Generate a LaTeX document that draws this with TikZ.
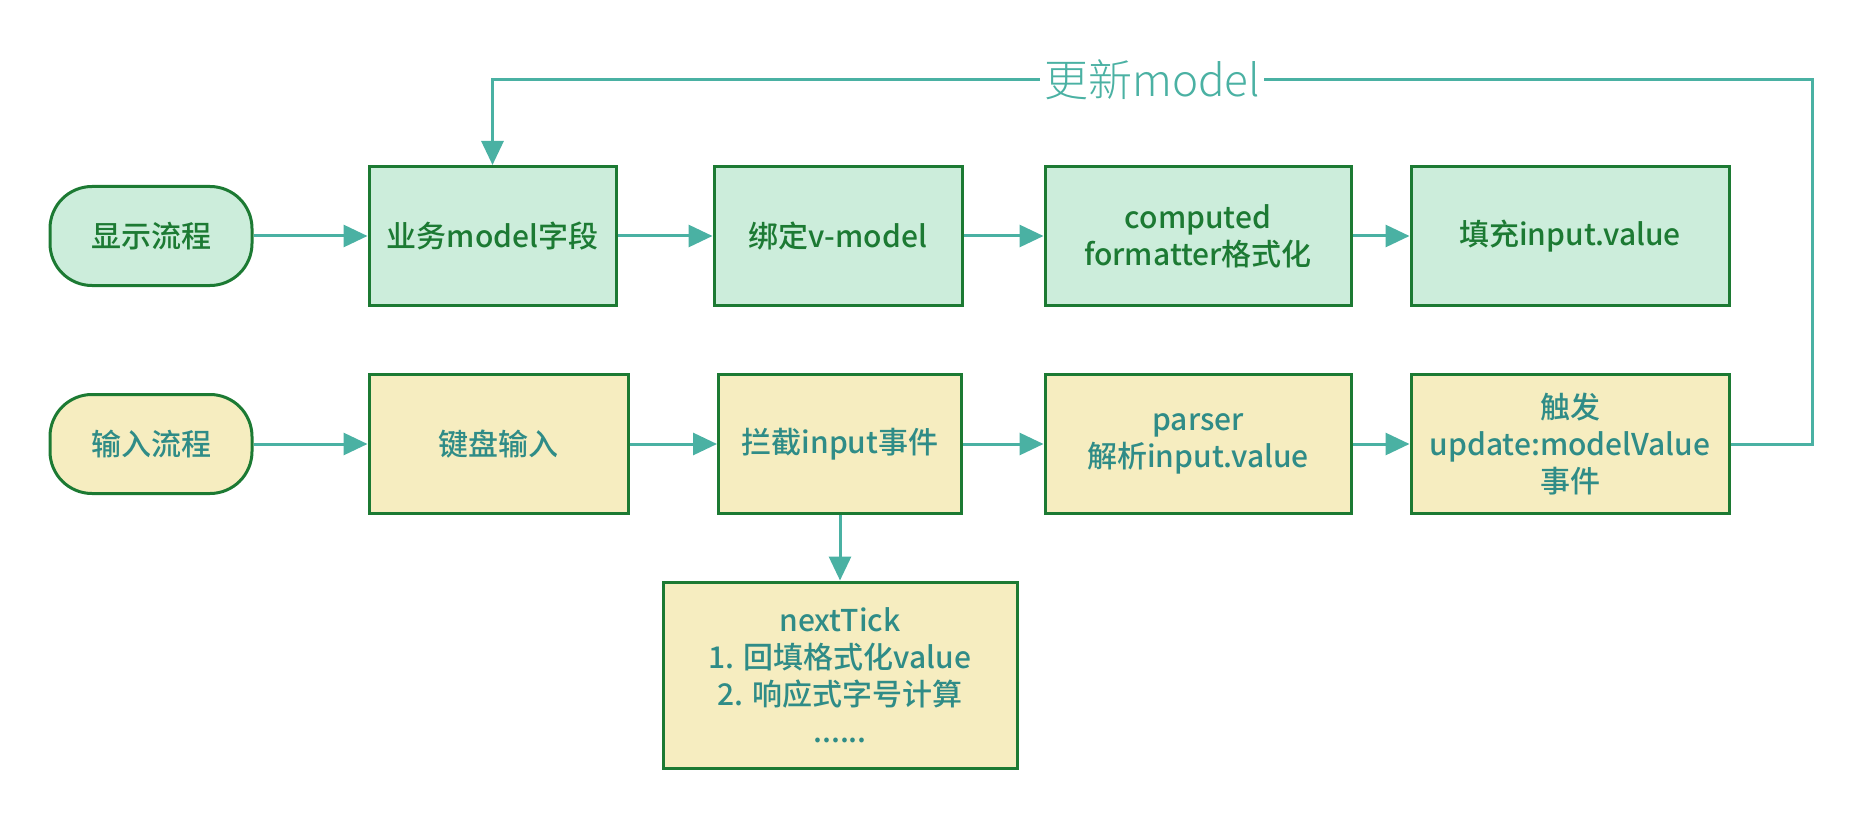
\documentclass[tikz,border=0pt]{standalone}
\usepackage{fontspec}
\setmainfont{Noto Sans CJK SC}[BoldFont={Noto Sans CJK SC Medium}]
\newfontfamily\lightcjk{Noto Sans CJK SC Light}
\usetikzlibrary{arrows.meta}
\definecolor{mintfill}{HTML}{CCEDDB}
\definecolor{creamfill}{HTML}{F6EDC0}
\definecolor{darkgreen}{HTML}{1C7A33}
\definecolor{tealtext}{HTML}{2F8C87}
\definecolor{tealline}{HTML}{4AB1A3}
\tikzset{
	showbox/.style={draw=darkgreen, line width=1.5pt, fill=mintfill, text=darkgreen,
		font=\bfseries\fontsize{15}{18.5}\selectfont, align=center, inner sep=0pt,
		minimum height=69.5pt},
	inputbox/.style={showbox, fill=creamfill, text=tealtext},
	flowterm/.style={rounded corners=21pt, minimum width=101pt, minimum height=49.5pt},
	flow/.style={draw=tealline, line width=1.5pt, -{Triangle[length=12pt,width=11pt]}}
}
\begin{document}
\begin{tikzpicture}[x=0.5pt, y=-0.5pt]
		\useasboundingbox (0,0) rectangle (1862,818);
		% display flow
		\node[showbox, flowterm] (show) at (151,236) {显示流程};
		\node[showbox, minimum width=123.5pt] (field) at (492.5,236) {业务model字段};
		\node[showbox, minimum width=124pt] (bind) at (838,236) {绑定v-model};
		\node[showbox, minimum width=153pt] (fmt) at (1198,236) {computed\\formatter格式化};
		\node[showbox, minimum width=159pt] (fill) at (1570,236) {填充input.value};
		% input flow
		\node[inputbox, flowterm] (input) at (151,444) {输入流程};
		\node[inputbox, minimum width=129.5pt] (keys) at (498.5,444) {键盘输入};
		\node[inputbox, minimum width=121.5pt] (catch) at (840,444) {拦截input事件};
		\node[inputbox, minimum width=153pt] (parse) at (1198,444) {parser\\解析input.value};
		\node[inputbox, minimum width=159pt] (emit) at (1570,444) {触发\\update:modelValue\\事件};
		\node[inputbox, minimum width=177pt, minimum height=93pt] (tick) at (840,675)
			{nextTick\\1. 回填格式化value\\2. 响应式字号计算\\......};
		% connectors
		\draw[flow] (show) -- (field);
		\draw[flow] (field) -- (bind);
		\draw[flow] (bind) -- (fmt);
		\draw[flow] (fmt) -- (fill);
		\draw[flow] (input) -- (keys);
		\draw[flow] (keys) -- (catch);
		\draw[flow] (catch) -- (parse);
		\draw[flow] (parse) -- (emit);
		\draw[flow] (catch) -- (tick);
		\coordinate (back) at (1812,80);
		\draw[flow] (emit.east) -| (back) -| node[pos=0.25, fill=white, inner xsep=2pt, inner ysep=0pt,
			text=tealline, font=\lightcjk\fontsize{22}{24}\selectfont] (upd) {更新model} (field.north);
	\end{tikzpicture}
\end{document}
